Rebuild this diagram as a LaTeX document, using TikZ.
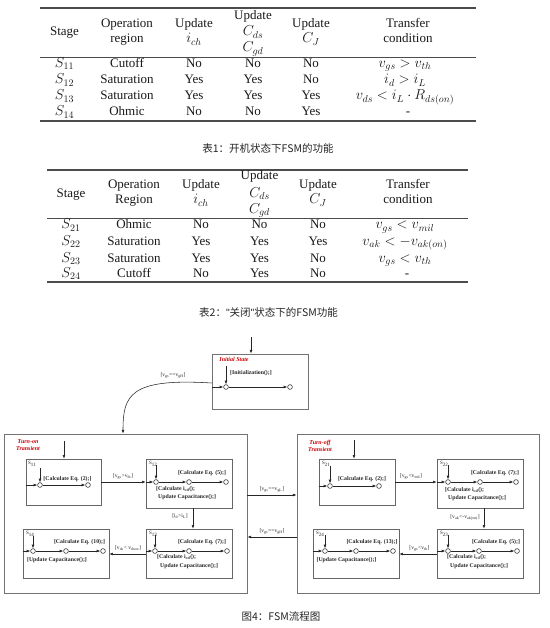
\documentclass[tikz,border=0pt]{standalone}
\usepackage{fontspec}
\setmainfont{Liberation Serif}
\newfontfamily\cjk{Noto Sans CJK SC}
\newfontfamily\lsans{Liberation Sans}
\usetikzlibrary{arrows.meta}
\newcommand\M[1]{{\fontsize{14}{17}\selectfont$#1$}}
\newcommand\MT[1]{{\fontsize{14.5}{17}\selectfont$#1$}}
\newcommand\sub[1]{\textsubscript{#1}}
\begin{document}
\begin{tikzpicture}[x=1pt,y=-1pt,
 tc/.style={font=\fontsize{13}{15}\selectfont, inner sep=0, anchor=base, text=black!90},
 trule/.style={draw=black!70, line width=1.1pt},
 mrule/.style={draw=black!70, line width=0.7pt},
 captxt/.style={font=\cjk\fontsize{10.5}{12}\selectfont, inner sep=0, text=black!85},
 sbox/.style={draw=black!60, line width=0.7pt, inner sep=0, rectangle},
 obox/.style={draw=black!55, line width=0.9pt, inner sep=0, rectangle},
 st/.style={circle, draw=black!85, fill=white, line width=0.55pt, inner sep=0, minimum size=4.8pt},
 arr/.style={-{Latex[length=3.6pt,width=2.8pt]}, line width=0.55pt, draw=black!85},
 bl/.style={font=\fontsize{5.8}{6.8}\selectfont\bfseries, inner sep=0, text=black!85},
 tl/.style={font=\fontsize{5.6}{6.5}\selectfont, inner sep=0, text=black!85},
 rl/.style={font=\fontsize{6}{7}\selectfont\bfseries\itshape, inner sep=0, text=red!80!black, align=center},
 sl/.style={font=\fontsize{5}{6}\selectfont, inner sep=0, anchor=north west, text=black!85},
]
\useasboundingbox (0,0) rectangle (549,628);
\fill[white] (0,0) rectangle (549,628);

% ---------------- Table 1 ----------------
\draw[trule] (40,8) -- (476,8);
\draw[mrule] (40,57) -- (476,57);
\draw[trule] (40,121) -- (476,121);
\node[tc] (a1) at (64.5,36) {Stage};
\node[tc] (a2) at (127,28) {Operation};
\node[tc] (a3) at (127,43) {region};
\node[tc] (a4) at (194,28) {Update};
\node[tc] (a5) at (194,43) {\M{i_{ch}}};
\node[tc] (a6) at (253,20) {Update};
\node[tc] (a7) at (253,36) {\M{C_{ds}}};
\node[tc] (a8) at (253,52) {\M{C_{gd}}};
\node[tc] (a9) at (311,28) {Update};
\node[tc] (a10) at (311,43) {\M{C_J}};
\node[tc] (a11) at (408,28) {Transfer};
\node[tc] (a12) at (408,43) {condition};
% rows
\node[tc] (r11a) at (64.5,67.5) {\M{S_{11}}};
\node[tc] (r11b) at (127,67.5) {Cutoff};
\node[tc] (r11c) at (194,67.5) {No};
\node[tc] (r11d) at (253,67.5) {No};
\node[tc] (r11e) at (311,67.5) {No};
\node[tc] (r11f) at (405,67.5) {\MT{v_{gs} > v_{th}}};
\node[tc] (r12a) at (64.5,84) {\M{S_{12}}};
\node[tc] (r12b) at (127,84) {Saturation};
\node[tc] (r12c) at (194,84) {Yes};
\node[tc] (r12d) at (253,84) {Yes};
\node[tc] (r12e) at (311,84) {No};
\node[tc] (r12f) at (405,84) {\MT{i_{d} > i_{L}}};
\node[tc] (r13a) at (64.5,100) {\M{S_{13}}};
\node[tc] (r13b) at (127,100) {Saturation};
\node[tc] (r13c) at (194,100) {Yes};
\node[tc] (r13d) at (253,100) {Yes};
\node[tc] (r13e) at (311,100) {Yes};
\node[tc] (r13f) at (405,100) {\MT{v_{ds} < i_L\cdot R_{ds(on)}}};
\node[tc] (r14a) at (64.5,116) {\M{S_{14}}};
\node[tc] (r14b) at (127,116) {Ohmic};
\node[tc] (r14c) at (194,116) {No};
\node[tc] (r14d) at (253,116) {No};
\node[tc] (r14e) at (311,116) {Yes};
\node[tc] (r14f) at (408,116) {-};
\node[captxt] (cap1) at (268,148.5) {表1：开机状态下FSM的功能};

% ---------------- Table 2 ----------------
\draw[trule] (47,170) -- (468,170);
\draw[mrule] (47,218) -- (468,218);
\draw[trule] (47,282) -- (468,282);
\node[tc] (b1) at (71,197) {Stage};
\node[tc] (b2) at (134,189) {Operation};
\node[tc] (b3) at (134,204) {Region};
\node[tc] (b4) at (201,189) {Update};
\node[tc] (b5) at (201,204) {\M{i_{ch}}};
\node[tc] (b6) at (259.5,180) {Update};
\node[tc] (b7) at (259.5,197) {\M{C_{ds}}};
\node[tc] (b8) at (259.5,213) {\M{C_{gd}}};
\node[tc] (b9) at (318,189) {Update};
\node[tc] (b10) at (318,204) {\M{C_J}};
\node[tc] (b11) at (408,189) {Transfer};
\node[tc] (b12) at (408,204) {condition};
\node[tc] (r21a) at (71,229) {\M{S_{21}}};
\node[tc] (r21b) at (134,229) {Ohmic};
\node[tc] (r21c) at (201,229) {No};
\node[tc] (r21d) at (259.5,229) {No};
\node[tc] (r21e) at (318,229) {No};
\node[tc] (r21f) at (405,229) {\MT{v_{gs} < v_{mil}}};
\node[tc] (r22a) at (71,245) {\M{S_{22}}};
\node[tc] (r22b) at (134,245) {Saturation};
\node[tc] (r22c) at (201,245) {Yes};
\node[tc] (r22d) at (259.5,245) {Yes};
\node[tc] (r22e) at (318,245) {Yes};
\node[tc] (r22f) at (405,245) {\MT{v_{ak} < -v_{ak(on)}}};
\node[tc] (r23a) at (71,262) {\M{S_{23}}};
\node[tc] (r23b) at (134,262) {Saturation};
\node[tc] (r23c) at (201,262) {Yes};
\node[tc] (r23d) at (259.5,262) {Yes};
\node[tc] (r23e) at (318,262) {No};
\node[tc] (r23f) at (405,262) {\MT{v_{gs} < v_{th}}};
\node[tc] (r24a) at (71,277.5) {\M{S_{24}}};
\node[tc] (r24b) at (134,277.5) {Cutoff};
\node[tc] (r24c) at (201,277.5) {No};
\node[tc] (r24d) at (259.5,277.5) {Yes};
\node[tc] (r24e) at (318,277.5) {No};
\node[tc] (r24f) at (407,277.5) {-};
\node[captxt] (cap2) at (268.5,312) {表2：{\lsans"}关闭{\lsans"}状态下的FSM功能};

% ---------------- FSM ----------------
\node[obox, minimum width=96pt, minimum height=55pt] (init) at (260,381.5) {};
\node[obox, minimum width=243pt, minimum height=159pt] (on) at (125.5,513.5) {};
\node[obox, minimum width=242pt, minimum height=159pt] (off) at (418,513.5) {};
\node[sbox, minimum width=75pt, minimum height=46pt] (s11) at (63.5,482) {};
\node[sbox, minimum width=86pt, minimum height=49pt] (s12) at (189,483.5) {};
\node[sbox, minimum width=86pt, minimum height=49pt] (s13) at (189,553.5) {};
\node[sbox, minimum width=86pt, minimum height=49pt] (s14) at (66,553.5) {};
\node[sbox, minimum width=76pt, minimum height=46pt] (s21) at (357,482) {};
\node[sbox, minimum width=86pt, minimum height=49pt] (s22) at (480,483.5) {};
\node[sbox, minimum width=86pt, minimum height=49pt] (s23) at (480,553.5) {};
\node[sbox, minimum width=86pt, minimum height=49pt] (s24) at (356,553.5) {};

\node[rl] (tinit) at (234,359) {Initial State};
\node[rl] (ton) at (28,445) {Turn-on\\Transient};
\node[rl] (toff) at (320,445.5) {Turn-off\\Transient};

\node[sl] (l11) at (28,461) {S\sub{11}};
\node[sl] (l12) at (149,461) {S\sub{12}};
\node[sl] (l13) at (149,531) {S\sub{13}};
\node[sl] (l14) at (26,531) {S\sub{14}};
\node[sl] (l21) at (322,461) {S\sub{21}};
\node[sl] (l22) at (440,461) {S\sub{22}};
\node[sl] (l23) at (440,531) {S\sub{23}};
\node[sl] (l24) at (316,531) {S\sub{24}};

\node[st] (ia) at (226,387) {};
\node[st] (ib) at (290,387) {};
\node[st] (s11a) at (40,485) {};
\node[st] (s11b) at (88,485) {};
\node[st] (s12a) at (156,482) {};
\node[st] (s12b) at (189,482) {};
\node[st] (s12c) at (226,482) {};
\node[st] (s13a) at (155,551) {};
\node[st] (s13b) at (189,551) {};
\node[st] (s13c) at (227,551) {};
\node[st] (s14a) at (33,551) {};
\node[st] (s14b) at (66,551) {};
\node[st] (s14c) at (103,551) {};
\node[st] (s21a) at (330,486) {};
\node[st] (s21b) at (379,486) {};
\node[st] (s22a) at (448,482) {};
\node[st] (s22b) at (480,482) {};
\node[st] (s22c) at (516,482) {};
\node[st] (s23a) at (448,551) {};
\node[st] (s23b) at (479,551) {};
\node[st] (s23c) at (517,551) {};
\node[st] (s24a) at (325,551) {};
\node[st] (s24b) at (356,551) {};
\node[st] (s24c) at (393,551) {};

\node[bl] (ti) at (251,373) {[Initialization();]};
\node[bl] (t11) at (67.5,479) {[Calculate Eq. (2);]};
\node[bl] (t12) at (202,473) {[Calculate Eq. (5);]};
\node[bl, anchor=west] (t12b) at (156,489) {[Calculate i\sub{cd}();};
\node[bl, anchor=west] (t12c) at (158,497) {Update Capacitance();]};
\node[bl] (t13) at (202,542) {[Calculate Eq. (7);]};
\node[bl, anchor=west] (t13b) at (157,557) {[Calculate i\sub{cd}();};
\node[bl, anchor=west] (t13c) at (160,566) {Update Capacitance();]};
\node[bl] (t14) at (79.5,542) {[Calculate Eq. (10);]};
\node[bl] (t14b) at (57,560) {[Update Capacitance();]};
\node[bl] (t21) at (362,479) {[Calculate Eq. (2);]};
\node[bl] (t22) at (495,473) {[Calculate Eq. (7);]};
\node[bl, anchor=west] (t22b) at (445,490) {[Calculate i\sub{cd}();};
\node[bl, anchor=west] (t22c) at (448,498) {Update Capacitance();]};
\node[bl] (t23) at (496,542) {[Calculate Eq. (5);]};
\node[bl, anchor=west] (t23b) at (447,557) {[Calculate i\sub{cd}();};
\node[bl, anchor=west] (t23c) at (450,566) {Update Capacitance();]};
\node[bl] (t24) at (372,542) {[Calculate Eq. (13);]};
\node[bl] (t24b) at (346.5,560) {[Update Capacitance();]};

\node[tl] (g0) at (173,375) {[v\sub{gs}==v\sub{gH}]};
\node[tl] (g1) at (123,476.5) {[v\sub{gs}>v\sub{th}]};
\node[tl] (g2) at (180,516.5) {[i\sub{d}>i\sub{L}]};
\node[tl] (g3) at (128,548) {[v\sub{ds}< v\sub{dson}]};
\node[tl] (g4) at (272,489) {[v\sub{gs}==v\sub{gL}]};
\node[tl] (g5) at (272,531) {[v\sub{gs}==v\sub{gH}]};
\node[tl] (g6) at (411,476.5) {[v\sub{gs}<v\sub{mil}]};
\node[tl] (g7) at (465,517) {[v\sub{ak}<-v\sub{ak(on)}]};
\node[tl] (g8) at (419.5,548) {[v\sub{gs}<v\sub{th}]};

\coordinate (initin) at (251,337);
\coordinate (onin) at (64,441);
\coordinate (offin) at (354,440);
\coordinate (di) at (226,366);
\coordinate (d11) at (40,468);
\coordinate (d12) at (156,465);
\coordinate (d13) at (155,535);
\coordinate (d14) at (33,536);
\coordinate (d21) at (330,466);
\coordinate (d22) at (448,465);
\coordinate (d23) at (448,535);
\coordinate (d24) at (325,535);
\coordinate (cvs) at (0,383);
\coordinate (cve) at (123,0);
\coordinate (ty1) at (0,495);
\coordinate (ty2) at (0,537);
\coordinate (ty3) at (0,554);
\coordinate (tx1) at (193,0);
\coordinate (tx2) at (484,0);

\draw[arr] (initin) -- (initin |- init.north);
\draw[arr] (onin) -- (onin |- s11.north);
\draw[arr] (offin) -- (offin |- s21.north);

\draw[arr] (di) -- (ia);
\draw[arr] (init.west |- ia) -- (ia);
\draw[arr] (ia) -- (ib);

\draw[arr] (init.west |- cvs) .. controls (130,378) and (123,395) .. (on.north -| cve);

\draw[arr] (d11) -- (s11a);
\draw[arr] (s11.west |- s11a) -- (s11a);
\draw[arr] (s11a) -- (s11b);
\draw[arr] (d12) -- (s12a);
\draw[arr] (s12.west |- s12a) -- (s12a);
\draw[arr] (s12a) -- (s12b);
\draw[arr] (s12b) -- (s12c);
\draw[arr] (d13) -- (s13a);
\draw[arr] (s13.west |- s13a) -- (s13a);
\draw[arr] (s13a) -- (s13b);
\draw[arr] (s13b) -- (s13c);
\draw[arr] (d14) -- (s14a);
\draw[arr] (s14.west |- s14a) -- (s14a);
\draw[arr] (s14a) -- (s14b);
\draw[arr] (s14b) -- (s14c);
\draw[arr] (d21) -- (s21a);
\draw[arr] (s21.west |- s21a) -- (s21a);
\draw[arr] (s21a) -- (s21b);
\draw[arr] (d22) -- (s22a);
\draw[arr] (s22.west |- s22a) -- (s22a);
\draw[arr] (s22a) -- (s22b);
\draw[arr] (s22b) -- (s22c);
\draw[arr] (d23) -- (s23a);
\draw[arr] (s23.west |- s23a) -- (s23a);
\draw[arr] (s23a) -- (s23b);
\draw[arr] (s23b) -- (s23c);
\draw[arr] (d24) -- (s24a);
\draw[arr] (s24.west |- s24a) -- (s24a);
\draw[arr] (s24a) -- (s24b);
\draw[arr] (s24b) -- (s24c);

\draw[arr] (s11.east |- s12a) -- (s12.west |- s12a);
\draw[arr] (s12.south -| tx1) -- (s13.north -| tx1);
\draw[arr] (s13.west |- ty3) -- (s14.east |- ty3);
\draw[arr] (s21.east |- s22a) -- (s22.west |- s22a);
\draw[arr] (s22.south -| tx2) -- (s23.north -| tx2);
\draw[arr] (s23.west |- ty3) -- (s24.east |- ty3);

\draw[arr] (on.east |- ty1) -- (off.west |- ty1);
\draw[arr] (off.west |- ty2) -- (on.east |- ty2);

\node[captxt] (cap3) at (281,617) {图4：FSM流程图};
\end{tikzpicture}
\end{document}
